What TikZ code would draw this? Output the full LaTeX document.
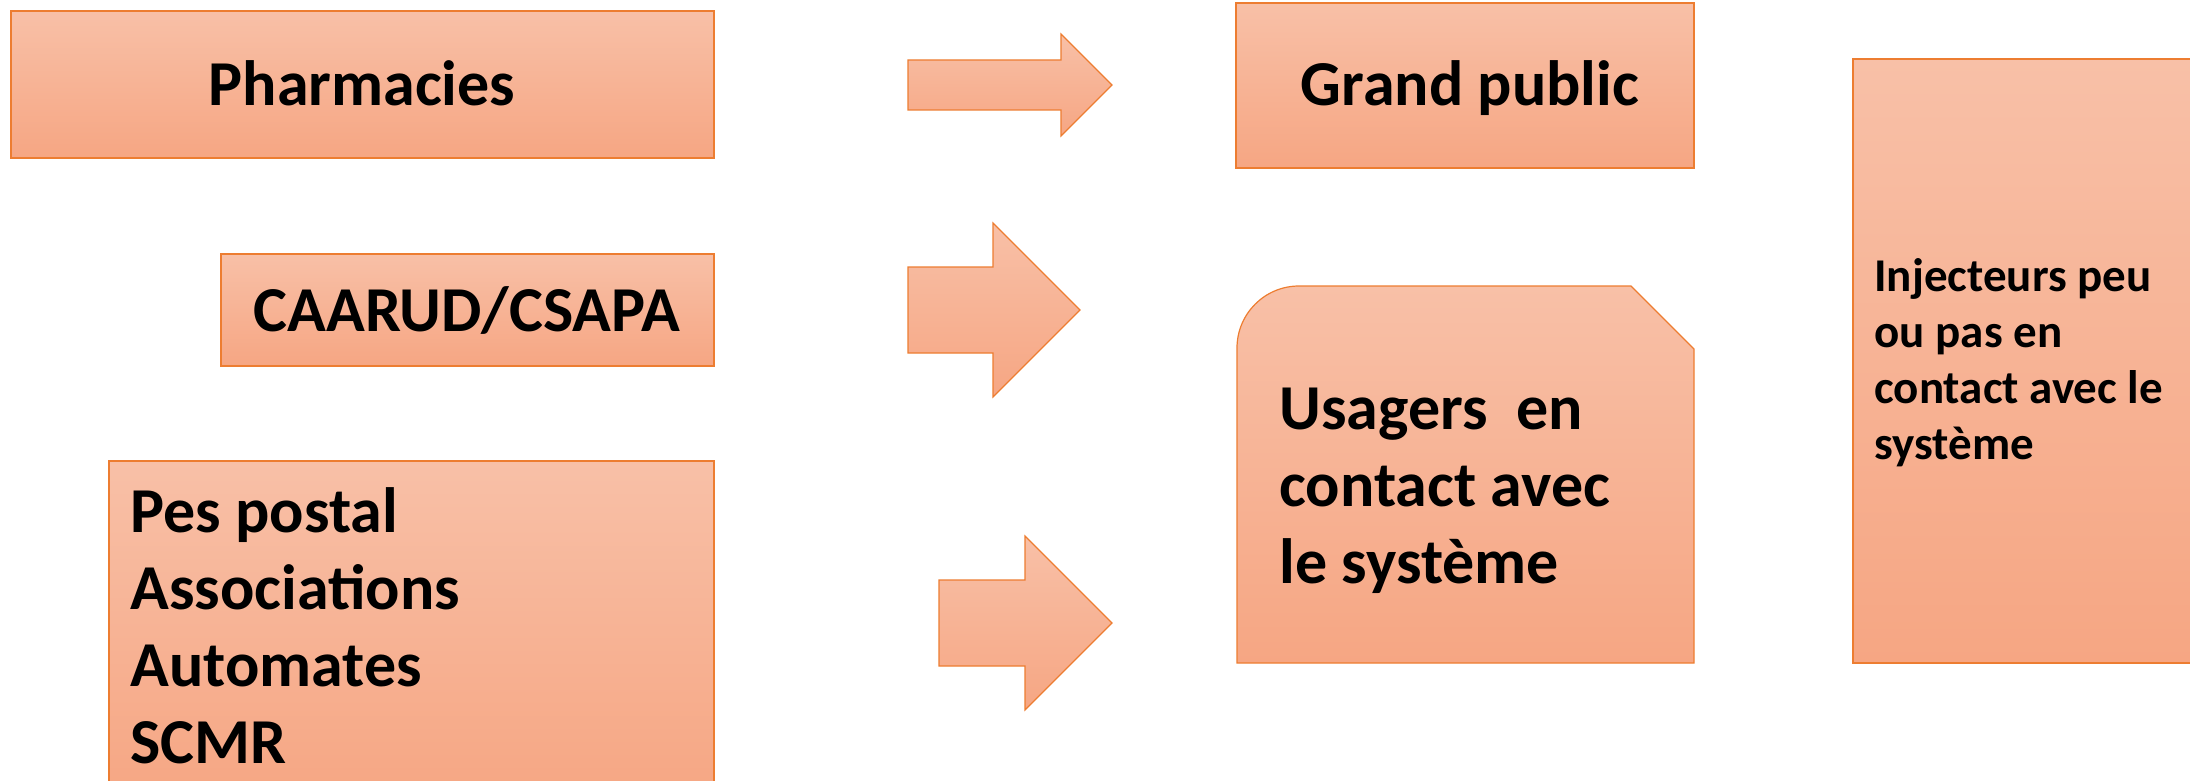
\documentclass[tikz,border=0pt]{standalone}
\usepackage{fontspec}
\setmainfont{Carlito}
\definecolor{peachtop}{RGB}{248,192,167}
\definecolor{peachbot}{RGB}{246,166,131}
\definecolor{boxline}{RGB}{237,125,49}
\tikzset{
  boxfill/.style={draw=boxline,line width=0.6pt,top color=peachtop,bottom color=peachbot},
  bigtext/.style={font=\bfseries\fontsize{32}{38.5}\selectfont,inner sep=0pt,align=left},
  smalltext/.style={font=\bfseries\fontsize{23.5}{28}\selectfont,inner sep=0pt,align=left}
}
\begin{document}
\begin{tikzpicture}[x=0.5pt,y=-0.5pt]
  \useasboundingbox (0,0) rectangle (2190,781);
  \clip (0,0) rectangle (2190,781);
  % sources
  \draw[boxfill] (11,11) rectangle (714,158);
  \node[bigtext,anchor=base] (pharma) at (362,105) {Pharmacies};
  \draw[boxfill] (221,254) rectangle (714,366);
  \node[bigtext,anchor=base] (caarud) at (467,331) {CAARUD/CSAPA};
  \draw[boxfill] (109,461) rectangle (714,800);
  \node[bigtext,anchor=north west] (pes) at (130,487) {Pes postal\\Associations\\Automates\\SCMR};
  % arrows
  \foreach \tx/\hx/\px/\cy/\sh/\hh in {908/1061/1112/85/25/51,908/993/1080/310/43/87,939/1025/1112/623/43/87}
    \draw[boxfill] (\tx,\cy-\sh) -- (\hx,\cy-\sh) -- (\hx,\cy-\hh) -- (\px,\cy)
      -- (\hx,\cy+\hh) -- (\hx,\cy+\sh) -- (\tx,\cy+\sh) -- cycle;
  % publics
  \draw[boxfill] (1236,3) rectangle (1694,168);
  \node[bigtext,anchor=base] (grand) at (1470,106) {Grand public};
  \draw[boxfill] (1237,663) -- (1237,348) arc[start angle=180,end angle=270,radius=62]
    -- (1631,286) -- (1694,349) -- (1694,663) -- cycle;
  \node[bigtext,anchor=north west] (usagers) at (1279,388) {Usagers\ \ en\\contact avec\\le système};
  \draw[boxfill] (1853,59) rectangle (2200,663);
  \node[smalltext,anchor=north west] (inject) at (1874,258) {Injecteurs peu\\ou pas en\\contact avec le\\système};
\end{tikzpicture}
\end{document}
